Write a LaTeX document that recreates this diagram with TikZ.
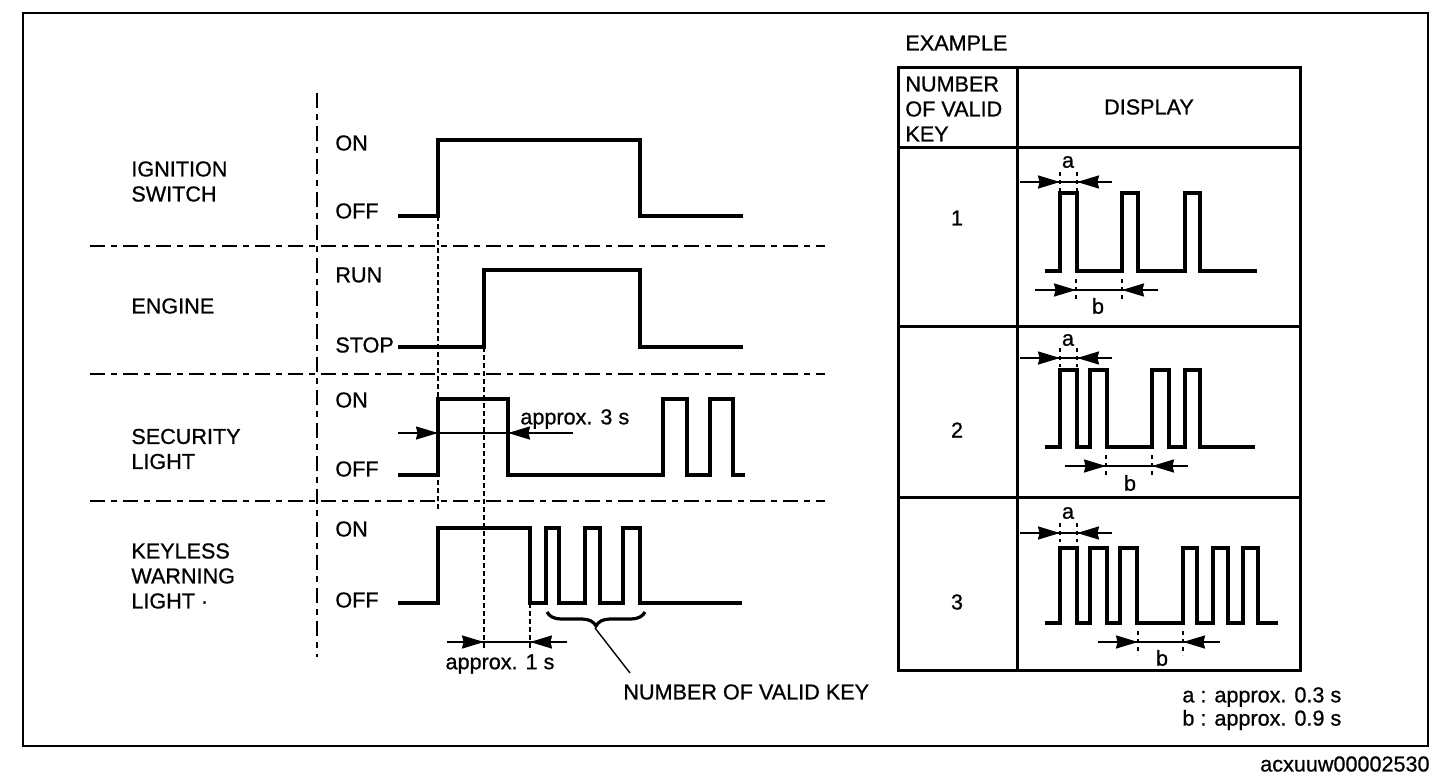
\documentclass[tikz,border=0pt]{standalone}
\usepackage{fontspec}
\setmainfont{Liberation Sans}[FakeBold=0.8]
\usetikzlibrary{arrows.meta,decorations.pathreplacing}
\newcommand{\lbl}{\fontsize{10.8}{12.5}\selectfont}
\tikzset{
  wave/.style={line width=1.6pt,line join=miter},
  sepline/.style={line width=1pt,dash pattern=on 7.5pt off 3pt on 3pt off 3pt},
  guide/.style={line width=0.8pt,dash pattern=on 2.5pt off 1.5pt},
  tick/.style={line width=1.3pt,dash pattern=on 2pt off 2pt},
  dimline/.style={line width=1pt},
  dimtip/.style={line width=1pt,-{Stealth[length=11pt,width=6.5pt,inset=0.8pt]}},
  grid/.style={line width=1.5pt},
  txt/.style={anchor=west,inner sep=0,align=left}
}
% y, outer start, left tip, right tip, outer end
\newcommand{\dimarr}[5]{%
  \draw[dimline] (#2,#1) -- (#5,#1);
  \draw[dimtip] (#2,#1) -- (#3,#1);
  \draw[dimtip] (#5,#1) -- (#4,#1);}

\begin{document}
\begin{tikzpicture}[x=0.5pt,y=-0.5pt,font=\lbl]
\useasboundingbox (0,0) rectangle (1440,776);
\draw[line width=1pt] (23,13) rectangle (1428,746);
% timing chart
\draw[sepline] (317,93) -- (317,657);
\foreach \y in {246,374,501} \draw[sepline] (90,\y) -- (825,\y);
\node[txt] (ign) at (131,181.5) {IGNITION\\SWITCH};
\node[txt] (eng) at (131,306) {ENGINE};
\node[txt] (sec) at (131,449) {SECURITY\\LIGHT};
\node[txt] (kwl) at (131,576) {KEYLESS\\WARNING\\LIGHT ·};
\node[txt] (ignon) at (335,143) {ON};
\node[txt] (ignoff) at (335,211) {OFF};
\node[txt] (engrun) at (335,275) {RUN};
\node[txt] (engstop) at (335,345) {STOP};
\node[txt] (secon) at (335,400) {ON};
\node[txt] (secoff) at (335,469) {OFF};
\node[txt] (kwlon) at (335,529) {ON};
\node[txt] (kwloff) at (335,600) {OFF};
\draw[wave] (398,216) -| (438,140) -| (640,216) -- (743,216);
\draw[wave] (398,347) -| (484,270) -| (640,347) -- (743,347);
\draw[wave] (398,475) -| (438,399) -| (508,475) -| (663,399) -| (687,475) -| (710,399) -| (733,475) -- (745,475);
\draw[wave] (398,603) -| (438,528) -| (530,603) -| (546,528) -| (559,603) -| (585,528) -| (600,603) -| (623,528) -| (640,603) -- (742,603);
\draw[guide] (438,216) -- (438,510);
\draw[guide] (484,347) -- (484,648);
\draw[guide] (530,603) -- (530,648);
\dimarr{433}{398}{438}{508}{573}
\dimarr{642}{447}{484}{530}{567}
\node[txt] (t3s) at (520,419) {approx. 3 s};
\node[inner sep=0] (t1s) at (500,664) {approx. 1 s};
\draw[line width=1.6pt,decorate,decoration={brace,mirror,amplitude=7pt}] (547,612) -- (645,612);
\coordinate (btip) at (595,628);
\node[txt] (nvk) at (623,692) {NUMBER OF VALID KEY};
\coordinate (lead) at (630,673);
\draw[line width=0.7pt] (btip) -- (lead);
% example table
\node[txt] (exmp) at (905,43) {EXAMPLE};
\draw[grid] (898,67) rectangle (1300,670);
\draw[grid] (1017,67) -- (1017,670);
\foreach \y in {147,326,497} \draw[grid] (898,\y) -- (1300,\y);
\node[txt] (hnum) at (905,109) {NUMBER\\OF VALID\\KEY};
\node[inner sep=0] (hdisp) at (1149,107) {DISPLAY};
\node[inner sep=0] (n1) at (957,218) {1};
\node[inner sep=0] (n2) at (957,430) {2};
\node[inner sep=0] (n3) at (957,602) {3};
% one key
\draw[wave] (1045,271) -| (1060,193) -| (1077,271) -| (1122,193) -| (1138,271) -| (1185,193) -| (1200,271) -- (1257,271);
\dimarr{182}{1020}{1060}{1077}{1112}
\dimarr{290}{1035}{1076}{1122}{1158}
\foreach \x in {1060,1077} \draw[tick] (\x,172) -- (\x,191);
\foreach \x in {1076,1122} \draw[tick] (\x,279) -- (\x,301);
\node[inner sep=0] (a1) at (1068,162) {a};
\node[inner sep=0] (b1) at (1098,306) {b};
% two keys
\draw[wave] (1045,447) -| (1060,370) -| (1077,447) -| (1090,370) -| (1107,447) -| (1152,370) -| (1169,447) -| (1185,370) -| (1200,447) -- (1255,447);
\dimarr{358}{1020}{1060}{1077}{1112}
\dimarr{466}{1065}{1106}{1152}{1188}
\foreach \x in {1060,1077} \draw[tick] (\x,348) -- (\x,367);
\foreach \x in {1106,1152} \draw[tick] (\x,455) -- (\x,478);
\node[inner sep=0] (a2) at (1068,340) {a};
\node[inner sep=0] (b2) at (1130,483) {b};
% three keys
\draw[wave] (1045,623) -| (1060,548) -| (1077,623) -| (1090,548) -| (1107,623) -| (1120,548) -| (1137,623) -| (1183,548) -| (1197,623) -| (1213,548) -| (1228,623) -| (1243,548) -| (1258,623) -- (1278,623);
\dimarr{533}{1020}{1060}{1077}{1112}
\dimarr{642}{1098}{1138}{1183}{1220}
\foreach \x in {1060,1077} \draw[tick] (\x,523) -- (\x,542);
\foreach \x in {1138,1183} \draw[tick] (\x,631) -- (\x,655);
\node[inner sep=0] (a3) at (1068,513) {a};
\node[inner sep=0] (b3) at (1162,658) {b};
\node[txt] (lega) at (1182,697) {a : approx. 0.3 s};
\node[txt] (legb) at (1182,720) {b : approx. 0.9 s};
\node[anchor=east,inner sep=0] (code) at (1430,764) {acxuuw00002530};
\end{tikzpicture}
\end{document}
